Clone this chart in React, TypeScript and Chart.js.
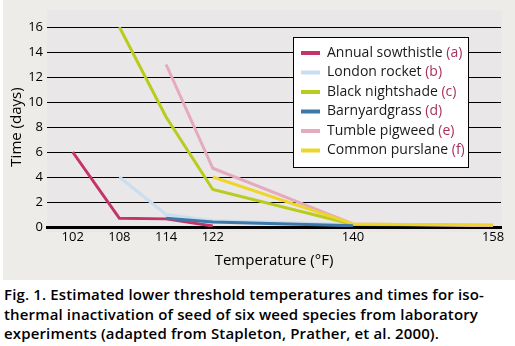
import React, { useEffect, useRef } from "react";
import { Chart, registerables } from "chart.js";

Chart.register(...registerables);

const xLabels = ["102", "108", "114", "122", "", "", "140", "", "", "158"];
const seriesNames = [
  "Annual sowthistle",
  "London rocket",
  "Black nightshade",
  "Barnyardgrass",
  "Tumble pigweed",
  "Common purslane",
];
const seriesTags = ["(a)", "(b)", "(c)", "(d)", "(e)", "(f)"];
const seriesColors = ["#c4346a", "#c9def0", "#b9cc1e", "#3d78a8", "#e5aabd", "#eed52a"];

const annualSowthistle = [6, 0.7, 0.65, 0.08, null, null, null, null, null, null];
const londonRocket = [null, 4, 1.0, 0.5, null, null, 0.2, null, null, null];
const blackNightshade = [null, 16, 8.8, 3, null, null, 0.2, null, null, 0.15];
const barnyardgrass = [null, null, 0.7, 0.4, null, null, 0.1, null, null, null];
const tumblePigweed = [null, null, 13, 4.7, null, null, 0.25, null, null, 0.1];
const commonPurslane = [null, null, null, 4, null, null, 0.25, null, null, 0.15];

const allSeries = [annualSowthistle, londonRocket, blackNightshade, barnyardgrass, tumblePigweed, commonPurslane];
const drawOrder = [5, 4, 3, 0, 2, 1];

const yTicks = [0, 2, 4, 6, 8, 10, 12, 14, 16];

const bgPlugin = {
  id: "bgPanel",
  beforeDraw(chart: any) {
    const { ctx, chartArea } = chart;
    ctx.save();
    ctx.fillStyle = "#ffffff";
    ctx.fillRect(0, 0, chart.width, chart.height);
    ctx.fillStyle = "#edece8";
    ctx.fillRect(3, 0, chart.width - 3, chart.height);
    ctx.fillStyle = "#e9e7e7";
    ctx.fillRect(chartArea.left, 10, chartArea.right - chartArea.left + 1, chartArea.bottom + 5 - 10);
    ctx.restore();
  },
};

const legendPlugin = {
  id: "customLegend",
  afterDraw(chart: any) {
    const { ctx } = chart;
    const bx = 293, by = 37, bw = 175, bh = 130;
    ctx.save();
    ctx.fillStyle = "#ffffff";
    ctx.fillRect(bx, by, bw, bh);
    ctx.strokeStyle = "#000";
    ctx.lineWidth = 1;
    ctx.strokeRect(bx + 0.5, by + 0.5, bw, bh);
    ctx.font = "14px 'Open Sans'";
    ctx.textBaseline = "middle";
    chart.data.datasets.forEach((ds: any, i: number) => {
      const y = 53 + i * 19.5;
      ctx.strokeStyle = ds.borderColor;
      ctx.lineWidth = 4;
      ctx.beginPath();
      ctx.moveTo(301, y);
      ctx.lineTo(320, y);
      ctx.stroke();
      ctx.fillStyle = "#1a1a1a";
      ctx.fillText(ds.label, 327, y);
      const w = ctx.measureText(ds.label + " ").width;
      ctx.fillStyle = "#a8305e";
      ctx.fillText(seriesTags[i], 327 + w, y);
    });
    ctx.restore();
  },
};

export default function App() {
  const ref = useRef<HTMLCanvasElement>(null);
  useEffect(() => {
    document.body.style.margin = "0";
    const datasets = seriesNames.map((name, i) => ({
      label: name,
      data: xLabels
        .map((_, j) => ({ x: j, y: allSeries[i][j] }))
        .filter((p) => p.y !== null),
      borderColor: seriesColors[i],
      backgroundColor: seriesColors[i],
      borderWidth: 3,
      pointRadius: 0,
      tension: 0,
      fill: false,
      order: drawOrder[i],
    }));
    const chart = new Chart(ref.current as HTMLCanvasElement, {
      type: "line",
      data: { datasets },
      options: {
        animation: false,
        responsive: false,
        layout: { padding: { left: 4, right: 14, top: 27, bottom: 10 } },
        plugins: { legend: { display: false }, tooltip: { enabled: false } },
        scales: {
          x: {
            type: "linear",
            min: -0.55,
            max: 9.17,
            afterBuildTicks(scale: any) {
              scale.ticks = xLabels
                .map((l, i) => ({ value: i, label: l }))
                .filter((t) => t.label !== "")
                .map((t) => ({ value: t.value }));
            },
            afterFit(scale: any) {
              scale.height = 43;
            },
            ticks: {
              callback: (v: any) => xLabels[v],
              font: { family: "'Open Sans'", size: 13 },
              color: "#000",
              padding: 2,
              maxRotation: 0,
              autoSkip: false,
            },
            grid: { display: false, drawTicks: false },
            border: { display: true, color: "#000", width: 3 },
            title: {
              display: true,
              text: "Temperature (°F)",
              font: { family: "'Open Sans'", size: 15 },
              color: "#000",
              padding: { top: 4, bottom: 0 },
            },
          },
          y: {
            min: 0,
            max: 16,
            afterBuildTicks(scale: any) {
              scale.ticks = yTicks.map((v) => ({ value: v }));
            },
            afterFit(scale: any) {
              scale.width = 43;
            },
            ticks: {
              font: { family: "'Open Sans'", size: 13 },
              color: "#000",
              padding: 4,
            },
            grid: { color: "#000", lineWidth: 1, drawTicks: false },
            border: { display: false },
            title: {
              display: true,
              text: "Time (days)",
              font: { family: "'Open Sans'", size: 15 },
              color: "#000",
              padding: { top: 4, bottom: 2 },
            },
          },
        },
      },
      plugins: [bgPlugin, legendPlugin],
    });
    return () => chart.destroy();
  }, []);
  return (
    <div style={{ width: 515, height: 346, background: "#fff" }}>
      <canvas ref={ref} width={515} height={280} style={{ display: "block" }} />
      <div
        style={{
          fontFamily: "'Open Sans'",
          fontWeight: 600,
          fontSize: 15,
          letterSpacing: "0.15px",
          lineHeight: "19.5px",
          color: "#000",
          paddingLeft: 4,
          marginTop: 5,
          whiteSpace: "nowrap",
        }}
      >
        Fig. 1. Estimated lower threshold temperatures and times for iso-
        <br />
        thermal inactivation of seed of six weed species from laboratory
        <br />
        experiments (adapted from Stapleton, Prather, et al. 2000).
      </div>
    </div>
  );
}
